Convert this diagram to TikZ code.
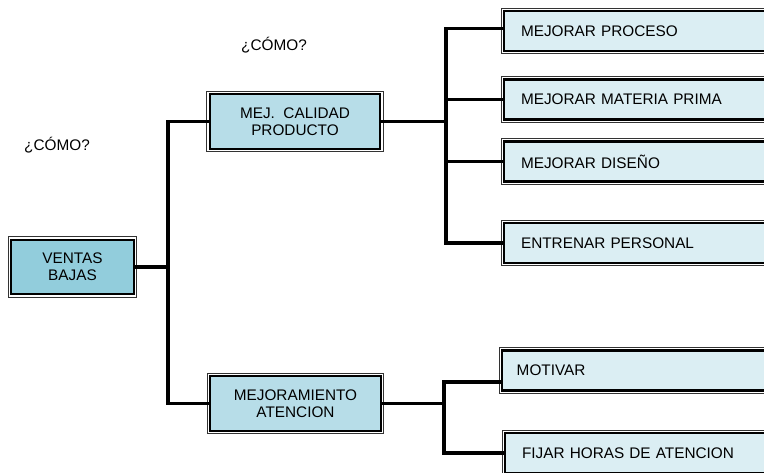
\documentclass[tikz,border=0pt]{standalone}
\usepackage{fontspec}
\setmainfont{Liberation Sans}
\definecolor{aquadark}{HTML}{92CDDC}
\definecolor{aquamid}{HTML}{B7DDE8}
\definecolor{aqualight}{HTML}{DBEEF3}
\tikzset{
  framebox/.style={draw=black, line width=1.6pt, inner sep=2pt,
    preaction={draw=black!80, line width=5pt},
    preaction={draw=white, line width=3.6pt},
    font=\fontsize{11.5}{12.8}\selectfont},
  mainbox/.style={framebox, align=center, minimum width=128pt, minimum height=41pt},
  leafbox/.style={framebox, fill=aqualight, anchor=west, minimum height=30pt,
    text width=190pt, align=left, inner xsep=12.75pt},
  link/.style={line width=2.7pt},
}
\begin{document}
\begin{tikzpicture}[x=0.75pt, y=-0.75pt]
        \useasboundingbox (0,0) rectangle (764,473);
        \clip (0,0) rectangle (764,473);
        % root and first level
        \node[mainbox, fill=aquadark, minimum width=92pt] (ventas) at (72.5,267) {VENTAS\\BAJAS};
        \node[mainbox, fill=aquamid] (calidad) at (295,121.5) {MEJ.\ \ CALIDAD\\PRODUCTO};
        \node[mainbox, fill=aquamid] (atencion) at (295.5,403.5) {MEJORAMIENTO\\ATENCION};
        \node[font=\fontsize{11.5}{12.8}\selectfont] (como1) at (57,145) {¿CÓMO?};
        \node[font=\fontsize{11.5}{12.8}\selectfont] (como2) at (274,45) {¿CÓMO?};

        % second level
        \node[leafbox] (proceso) at (503,31) {MEJORAR PROCESO};
        \node[leafbox] (materia) at (503,99.5) {MEJORAR MATERIA PRIMA};
        \node[leafbox] (diseno) at (503,161.5) {MEJORAR DISEÑO};
        \node[leafbox] (personal) at (503,243) {ENTRENAR PERSONAL};
        \node[leafbox, inner xsep=11pt] (motivar) at (501,370.5) {MOTIVAR};
        \node[leafbox] (horas) at (504,453) {FIJAR HORAS DE ATENCION};

        \coordinate (split0) at (168,267);
        \coordinate (split1) at (446,121.5);
        \coordinate (split2) at (444,403.5);

        \draw[link] (ventas) -- (split0);
        \draw[link] (split0) |- (calidad);
        \draw[link] (split0) |- (atencion);
        \draw[link] (calidad) -- (split1);
        \draw[link] (split1) |- ([yshift=2pt]proceso.west);
        \draw[link] (split1) |- (materia);
        \draw[link] (split1) |- (diseno);
        \draw[link] (split1) |- (personal);
        \draw[link] (atencion) -- (split2);
        \draw[link] (split2) |- ([yshift=-8.6pt]motivar.west);
        \draw[link] (split2) |- (horas);
    \end{tikzpicture}
\end{document}
